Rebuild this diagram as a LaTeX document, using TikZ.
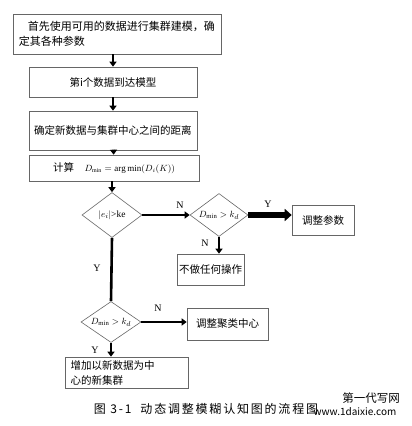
\documentclass[tikz,border=0pt]{standalone}
\usepackage{fontspec}
\setmainfont{Liberation Serif}
\newfontfamily\cjk{Noto Sans CJK SC}
\newfontfamily\cjkwide[LetterSpace=15]{Noto Sans CJK SC}
\usetikzlibrary{shapes.geometric, arrows.meta}

\tikzset{
    box/.style={draw=black!60, line width=0.6pt, inner sep=2pt,
        font=\cjk\fontsize{10.5}{15}\selectfont},
    choice/.style={draw=black!60, line width=0.6pt, diamond, shape aspect=1.4,
        inner sep=0pt, font=\fontsize{9.5}{11}\selectfont},
    flow/.style={line width=2.6pt, -{Triangle[width=7pt,length=5pt]}},
    bigflow/.style={line width=6pt, -{Triangle[width=12pt,length=7pt]}},
    yn/.style={font=\fontsize{10}{12}\selectfont}
}

\begin{document}
\begin{tikzpicture}[x=1pt, y=-1pt]
    \useasboundingbox (0,0) rectangle (412,426);

    \node[box, minimum width=208pt, minimum height=40pt, text width=196pt, align=left, font=\cjk\fontsize{11}{15}\selectfont]
        at (117,34) (start) {\hspace{0.8em}首先使用可用的数据进行集群建模，确\\定其各种参数};
    \node[box, minimum width=168pt, minimum height=30pt] at (113,82) (arrive) {第i个数据到达模型};
    \node[box, minimum width=168pt, minimum height=39pt] at (113,130.5) (dist) {确定新数据与集群中心之间的距离};
    \node[box, minimum width=170pt, minimum height=26pt] at (114,168) (calc)
        {计算\quad {\fontsize{9}{11}\selectfont $D_{\min}=\arg\min(D_i(K))$}};

    \node[choice, minimum width=60pt, minimum height=45pt] at (112,215) (err) {$|e_i|$>ke};
    \node[choice, minimum width=58pt, minimum height=43pt] at (219,215) (dmin) {$D_{\min}>k_d$};
    \node[choice, minimum width=60pt, minimum height=41pt] at (111,322) (dnew) {$D_{\min}>k_d$};

    \node[box, minimum width=62pt, minimum height=30pt] at (323,220) (param) {调整参数};
    \node[box, minimum width=67pt, minimum height=31pt] at (210.5,269.5) (none) {不做任何操作};
    \node[box, minimum width=81pt, minimum height=32pt] at (227.5,324) (center) {调整聚类中心};
    \node[box, minimum width=123pt, minimum height=31pt, text width=112pt, align=left]
        at (126.5,372.5) (newc) {增加以新数据为中\\心的新集群};

    \node[yn] at (180,205) (n1) {N};
    \node[yn] at (268,204) (y1) {Y};
    \node[yn] at (205,243) (n2) {N};
    \node[yn] at (97,268)  (y2) {Y};
    \node[yn] at (158,308) (n3) {N};
    \node[yn] at (95,350)  (y3) {Y};

    \node[font=\cjkwide\fontsize{12}{14}\selectfont] at (206,409) (cap) {图 3-1\ \ 动态调整模糊认知图的流程图};
    \node[font=\cjk\fontsize{11.5}{13}\selectfont] at (371,398) (wm1) {第一代写网};
    \node[font=\cjk\fontsize{10}{12}\selectfont] at (355,412) (wm2) {www.1daixie.com};

    \draw[flow] (arrive.north |- start.south) -- (arrive.north);
    \draw[flow] (arrive) -- (dist);
    \draw[flow] (dist) -- (calc);
    \draw[flow] (calc.south -| err) -- (err.north);
    \draw[flow] (err.east) -- (dmin.west);
    \draw[bigflow] (dmin.east) -- (dmin.east -| param.west);
    \draw[flow] (dmin.south) -- (dmin.south |- none.north);
    \draw[line width=2.6pt] (err.south) -- (dnew.north);
    \draw[flow] (dnew.east) -- (dnew.east -| center.west);
    \draw[flow] (dnew.south) -- (dnew.south |- newc.north);
\end{tikzpicture}
\end{document}
